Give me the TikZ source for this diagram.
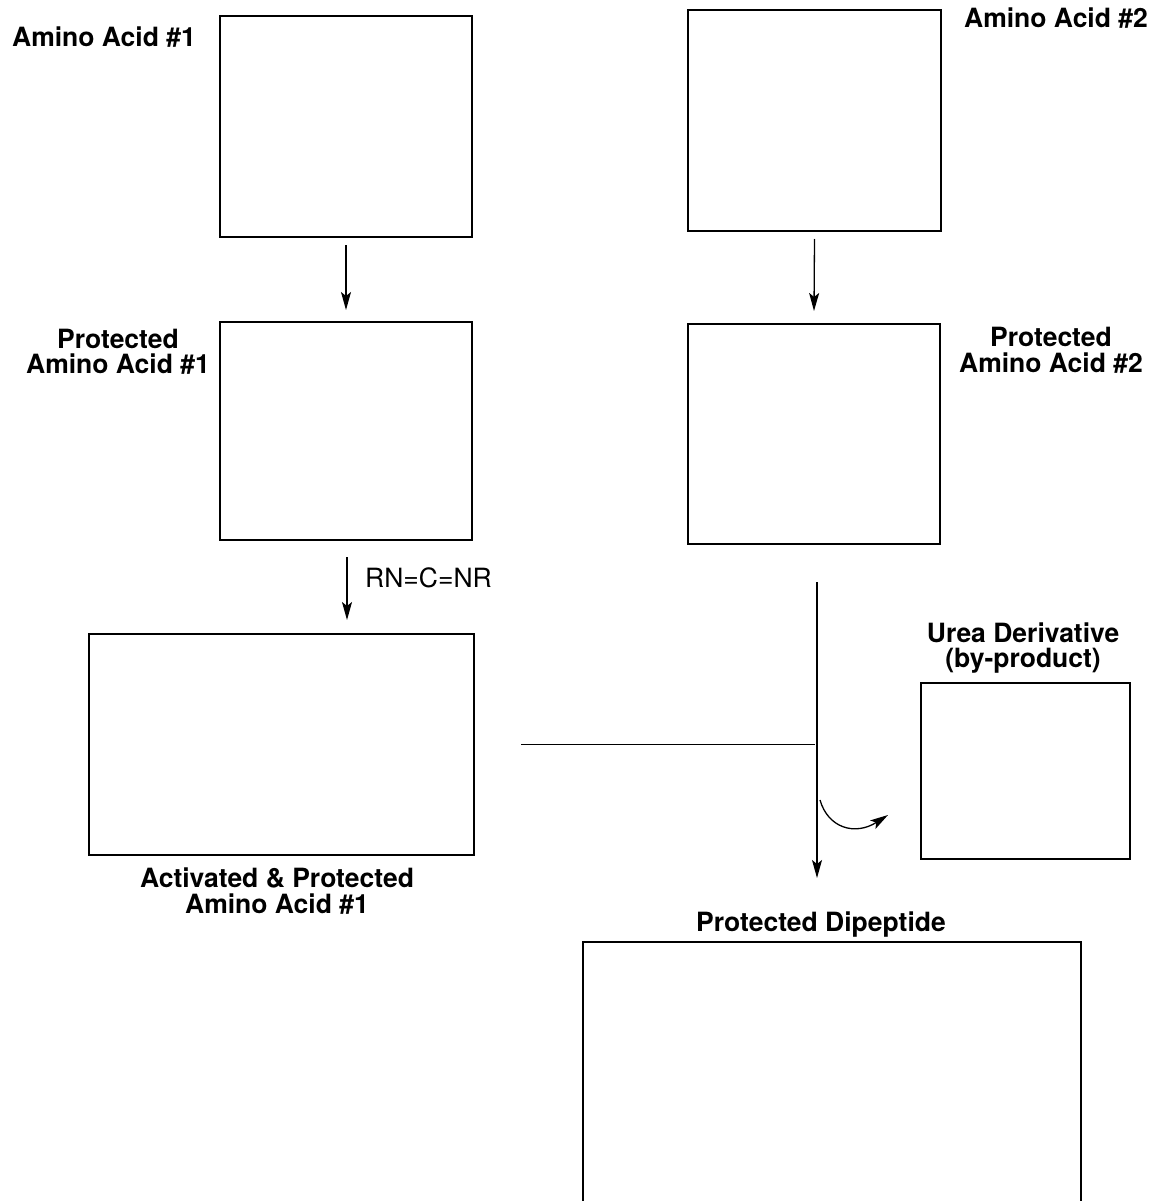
\documentclass[tikz,border=0pt]{standalone}
\usepackage{fontspec}
\setmainfont{TeX Gyre Heros}
\usetikzlibrary{arrows.meta}
\begin{document}
\begin{tikzpicture}[x=1pt,y=-1pt,
  box/.style={draw, line width=1.3pt, inner sep=0pt, outer sep=0pt, anchor=north west},
  lbl/.style={align=center, inner sep=0pt, anchor=base},
  arr/.style={line width=1.3pt, -{Stealth[length=18pt,width=10pt,inset=4pt]}},
  ln/.style={line width=1.3pt}]
\useasboundingbox (0,0) rectangle (1154,1201);
\clip (0,0) rectangle (1154,1201);
% boxes
\node[box, minimum width=252pt, minimum height=221pt] (aa1) at (220,16) {};
\node[box, minimum width=253pt, minimum height=221pt] (aa2) at (688,10) {};
\node[box, minimum width=252pt, minimum height=218pt] (paa1) at (220,322) {};
\node[box, minimum width=252pt, minimum height=220pt] (paa2) at (688,324) {};
\node[box, minimum width=385pt, minimum height=221pt] (act) at (89,634) {};
\node[box, minimum width=209pt, minimum height=176pt] (urea) at (921,683) {};
\node[box, minimum width=498pt, minimum height=290pt] (dip) at (583,942) {};
% labels (anchor = baseline of last line)
\node[lbl, font=\fontsize{26.5}{27}\selectfont\bfseries] (aa1l) at (104,47) {Amino Acid \#1};
\node[lbl, font=\fontsize{26.5}{27}\selectfont\bfseries] (aa2l) at (1056,28) {Amino Acid \#2};
\node[lbl, font=\fontsize{26.5}{25}\selectfont\bfseries] (paa1l) at (118,373) {Protected\\Amino Acid \#1};
\node[lbl, font=\fontsize{26.5}{26}\selectfont\bfseries] (paa2l) at (1051,372) {Protected\\Amino Acid \#2};
\node[lbl, font=\fontsize{26.5}{25}\selectfont\bfseries] (ureal) at (1023,667) {Urea Derivative\\(by-product)};
\node[lbl, font=\fontsize{26.5}{26}\selectfont\bfseries] (actl) at (277,913) {Activated \& Protected\\Amino Acid \#1};
\node[lbl, font=\fontsize{26.5}{27}\selectfont\bfseries] (dipl) at (821,931) {Protected Dipeptide};
\node[lbl, font=\fontsize{26.5}{27}\selectfont, anchor=base west] (rn) at (365,587) {RN=C=NR};
% connectors
\draw[arr] ([yshift=-8pt]aa1.south) -- ([yshift=12pt]paa1.north);
\draw[arr] ([yshift=-8pt]aa2.south) -- ([yshift=13pt]paa2.north);
\draw[arr] ([yshift=-17pt,xshift=1pt]paa1.south) -- ([yshift=14pt,xshift=1pt]act.north -| paa1.south);
\coordinate (vtop) at (817,582);
\coordinate (vbot) at (817,878);
\coordinate (cstart) at (820,800);
\coordinate (cend) at (888,815);
\draw[arr] (vtop) -- (vbot);
\draw[ln] ([xshift=47pt]act.east) -- ([xshift=341pt]act.east);
\draw[arr] (cstart) .. controls (828,828) and (855,836) .. (cend);
\end{tikzpicture}
\end{document}
